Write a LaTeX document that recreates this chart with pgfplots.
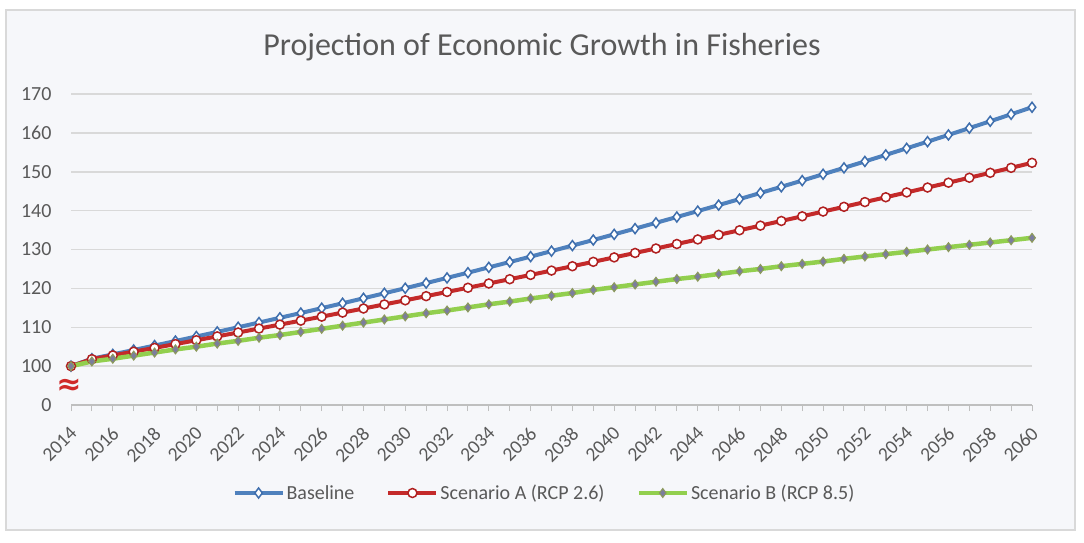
\documentclass[border=0pt]{standalone}
\usepackage{pgfplots}
\pgfplotsset{compat=1.18}
\usepackage{pgfplotstable}
\usepackage{fontspec}
\setmainfont{Carlito}
\newfontfamily\symfont{DejaVu Sans}
\definecolor{bline}{HTML}{4F81BD}
\definecolor{bmark}{HTML}{3E6EAD}
\definecolor{rline}{HTML}{C42A2A}
\definecolor{rmark}{HTML}{B02020}
\definecolor{gline}{HTML}{92CF4E}
\definecolor{gfill}{HTML}{7B7D9E}
\definecolor{gdraw}{HTML}{8C9A5A}
\definecolor{gridgray}{HTML}{D9D9D9}
\definecolor{axisgray}{HTML}{BFBFBF}
\definecolor{labelgray}{HTML}{595959}
\definecolor{bgpanel}{HTML}{F6F7FA}
\definecolor{bordergray}{HTML}{D9D9D9}
\definecolor{breakred}{HTML}{D02828}

\pgfplotstableread{
year base scA scB
2014 100.00 100.00 100.0
2015 101.90 101.80 101.2
2016 103.02 102.76 101.9
2017 104.15 103.72 102.7
2018 105.29 104.69 103.5
2019 106.45 105.67 104.3
2020 107.62 106.66 105.0
2021 108.80 107.65 105.8
2022 110.00 108.65 106.5
2023 111.21 109.66 107.3
2024 112.43 110.68 108.0
2025 113.66 111.70 108.8
2026 114.91 112.73 109.6
2027 116.17 113.77 110.4
2028 117.45 114.82 111.2
2029 118.74 115.87 112.0
2030 120.04 116.93 112.8
2031 121.36 118.00 113.6
2032 122.69 119.08 114.3
2033 124.04 120.16 115.1
2034 125.40 121.26 115.9
2035 126.78 122.36 116.6
2036 128.17 123.46 117.4
2037 129.58 124.58 118.1
2038 131.01 125.70 118.8
2039 132.44 126.83 119.6
2040 133.90 127.97 120.3
2041 135.37 129.11 121.0
2042 136.86 130.26 121.7
2043 138.36 131.42 122.4
2044 139.88 132.59 123.0
2045 141.42 133.77 123.7
2046 142.97 134.95 124.4
2047 144.54 136.14 125.0
2048 146.13 137.34 125.7
2049 147.73 138.54 126.3
2050 149.36 139.76 126.9
2051 151.00 140.98 127.6
2052 152.65 142.20 128.2
2053 154.33 143.44 128.8
2054 156.03 144.68 129.4
2055 157.74 145.94 130.0
2056 159.47 147.19 130.6
2057 161.22 148.46 131.2
2058 162.99 149.73 131.8
2059 164.79 151.01 132.4
2060 166.59 152.30 133.0
}\datatable

\begin{document}
\begin{tikzpicture}
\useasboundingbox (0,0) rectangle (1084pt,542pt);
\fill[white] (0,0) rectangle (1084pt,542pt);
\draw[bordergray, fill=bgpanel, line width=1.5pt] (6pt,12pt) rectangle (1075pt,532pt);
\node[font=\fontsize{32}{38}\selectfont, text=labelgray] at (542pt,495pt) {Projection of Economic Growth in Fisheries};
\begin{axis}[
  at={(71pt,137pt)}, anchor=south west,
  scale only axis, width=961pt, height=311pt,
  xmin=2014, xmax=2060, ymin=0, ymax=80,
  clip=false,
  y filter/.expression={y-90},
  axis lines=left, axis line style={-},
  y axis line style={draw=none},
  x axis line style={draw=axisgray, line width=1.2pt},
  xtick={2014,2016,...,2060}, minor xtick={2015,2017,...,2059},
  tick align=outside, major tick length=6pt, minor tick length=6pt,
  xtick style={draw=axisgray, line width=1pt},
  minor x tick style={draw=axisgray, line width=1pt},
  ytick={0,10,...,80}, yticklabels={0,100,110,120,130,140,150,160,170},
  ytick style={draw=none},
  ymajorgrids, grid style={draw=gridgray, line width=1.5pt},
  /pgf/number format/assume math mode=true,
  /pgf/number format/1000 sep={},
  xticklabel style={rotate=45, anchor=north east, font=\fontsize{19.5}{24}\selectfont, text=labelgray, inner sep=1pt, xshift=-10.6pt, yshift=-7.8pt},
  yticklabel style={font=\fontsize{20}{24}\selectfont, text=labelgray, xshift=-10pt},
  legend style={at={(0.4927,-0.283)}, anchor=center, legend columns=3, draw=none, fill=none,
    font=\fontsize{20}{24}\selectfont, text=labelgray,
    /tikz/every even column/.append style={column sep=30pt}},
  legend image code/.code={\draw[mark repeat=2, mark phase=2] plot coordinates {(0pt,0pt) (24pt,0pt) (48pt,0pt)};},
]
\addplot[color=bline, line width=4pt, mark=diamond*, mark size=5pt,
  mark options={fill=white, draw=bmark, line width=1.5pt, solid}] table[x=year,y=base]{\datatable};
\addlegendentry{Baseline}
\addplot[color=rline, line width=4pt, mark=*, mark size=4.5pt,
  mark options={fill=white, draw=rmark, line width=1.5pt, solid}] table[x=year,y=scA]{\datatable};
\addlegendentry{Scenario A (RCP 2.6)}
\addplot[color=gline, line width=4.5pt, mark=diamond*, mark size=4.5pt,
  mark options={fill=gfill, draw=gdraw, line width=1pt, solid}] table[x=year,y=scB]{\datatable};
\addlegendentry{Scenario B (RCP 8.5)}
\end{axis}
\node[text=breakred, font=\symfont\bfseries\fontsize{30}{32}\selectfont] at (69pt,155pt) {≈};
\end{tikzpicture}
\end{document}
